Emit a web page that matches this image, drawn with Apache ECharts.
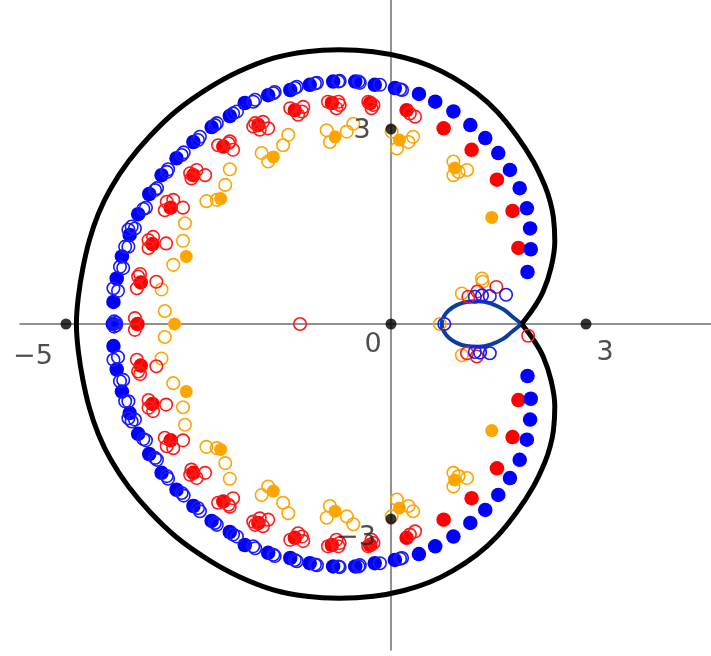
<!DOCTYPE html>
<html>
<head>
<meta charset="utf-8">
<script src="https://cdn.jsdelivr.net/npm/echarts/dist/echarts.min.js"></script>
<style>
    html, body { margin: 0; padding: 0; background: #fff; }
    #main { width: 711px; height: 656px; }
</style>
</head>
<body>
<div id="main"></div>
<script>
// upper half only: every root below the axis is the mirror image (conjugate pair)
var blueFilled = [[-4.27,0.34],[-4.22,0.70],[-4.14,1.04],[-4.02,1.37],[-3.89,1.69],[-3.72,2.00],[-3.53,2.29],[-3.30,2.55],
    [-3.04,2.80],[-2.76,3.03],[-2.48,3.20],[-2.25,3.40],[-1.89,3.52],[-1.55,3.60],[-1.25,3.68],[-0.89,3.73],[-0.55,3.73],
    [-0.25,3.68],[0.06,3.63],[0.43,3.54],[0.68,3.42],[0.96,3.27],[1.22,3.06],[1.45,2.86],[1.65,2.63],[1.83,2.37],
    [1.98,2.09],[2.09,1.78],[2.14,1.47],[2.15,1.15],[2.10,0.80]];
var blueOpen = [[-3.63,2.06],[-3.60,2.09],[-3.81,1.77],[-3.77,1.79],[-3.99,1.50],[-3.94,1.47],[-4.04,1.45],[-4.09,1.19],
    [-4.04,1.19],[-4.17,0.88],[-4.12,0.86],[-4.27,0.55],[-4.20,0.51],[-3.45,2.34],[-3.43,2.38],[-3.22,2.60],[-3.19,2.64],
    [-2.97,2.83],[-2.94,2.88],[-2.71,3.06],[-2.68,3.09],[-2.43,3.24],[-2.37,3.27],[-2.12,3.42],[-2.09,3.45],[-1.81,3.55],
    [-1.79,3.57],[-1.48,3.63],[-1.45,3.65],[-1.17,3.70],[-1.14,3.71],[-0.81,3.73],[-0.79,3.74],[-0.50,3.73],[-0.48,3.71],
    [-0.17,3.68],[0.14,3.61],[0.17,3.60],[-4.26,0.04],[-4.23,0.02]];
var redFilled = [[-3.85,0.64],[-3.67,1.23],[-3.39,1.79],[-3.04,2.29],[-2.58,2.73],[-2.04,3.06],[-1.48,3.29],[-0.91,3.40],
    [-0.32,3.40],[0.24,3.29],[0.81,3.01],[1.24,2.68],[1.63,2.22],[1.87,1.74],[1.96,1.17]];
var redOpen = [[-3.89,0.73],[-3.91,0.55],[-3.61,0.65],[-3.86,0.77],[-3.73,1.29],[-3.66,1.34],[-3.73,1.17],[-3.46,1.24],
    [-3.45,1.88],[-3.35,1.91],[-3.48,1.75],[-3.20,1.79],[-3.09,2.32],[-2.99,2.37],[-2.86,2.29],[-3.07,2.24],
    [-2.66,2.75],[-2.50,2.78],[-2.43,2.68],[-2.48,2.81],[-2.12,3.04],[-2.09,3.09],[-1.97,3.11],[-1.89,3.01],[-2.02,2.99],
    [-1.55,3.32],[-1.37,3.27],[-1.43,3.22],[-1.35,3.34],[-0.97,3.42],[-0.81,3.42],[-0.84,3.32],[-0.79,3.37],
    [-0.35,3.42],[-0.30,3.32],[-0.27,3.37],[0.29,3.24],[0.37,3.19],[-3.94,0.09]];
var orangeFilled = [[-3.15,1.04],[-2.62,1.93],[-1.81,2.57],[-0.86,2.88],[0.13,2.83],[0.98,2.40],[1.55,1.64]];
var orangeOpen = [[-2.84,1.89],[-2.68,1.91],[-2.55,2.14],[-2.48,2.38],[-3.17,1.55],[-3.20,1.28],[-3.35,0.91],[-3.53,0.53],
    [-3.48,0.20],[-1.99,2.63],[-1.89,2.50],[-1.66,2.75],[-1.58,2.91],[-0.99,2.98],[-0.94,2.80],[-0.68,2.96],[-0.58,3.08],
    [0.01,2.96],[0.09,2.70],[0.27,2.80],[0.34,2.88],[0.96,2.50],[1.04,2.34],[1.17,2.37],[0.96,2.29]];

// points on the real axis and the small cluster round the inner loop (not symmetric)
var blueFilledSingle = [[-4.28,0]];
var redFilledSingle = [[-3.90,0]];
var orangeFilledSingle = [[-3.33,0]];
var blueOpenSingle = [[0.82,0],[1.29,0.42],[1.40,0.44],[1.52,0.43],[1.77,0.45],[1.29,-0.43],[1.37,-0.44],[1.52,-0.45]];
var redOpenSingle = [[-1.40,0],[1.19,0.42],[1.33,0.50],[1.62,0.57],[1.17,-0.45],[1.32,-0.50],[2.11,-0.18]];
var orangeOpenSingle = [[0.75,0],[1.40,0.70],[1.41,0.65],[1.09,0.47],[1.09,-0.48]];

// curve, upper half, from the self-crossing round to the real axis
var outerCurve = [[2.01,0],[2.19,0.24],[2.34,0.50],[2.46,0.86],[2.52,1.27],[2.50,1.63],[2.45,1.88],[2.37,2.12],
    [2.19,2.50],[1.93,2.90],[1.63,3.27],[1.32,3.55],[0.96,3.79],[0.60,3.97],[0.20,4.10],[-0.27,4.19],[-0.80,4.22],
    [-1.30,4.19],[-1.81,4.09],[-2.35,3.88],[-2.82,3.62],[-3.30,3.28],[-3.70,2.90],[-4.04,2.50],[-4.31,2.09],
    [-4.50,1.70],[-4.64,1.29],[-4.74,0.86],[-4.81,0.42],[-4.84,0]];
var innerLoop = [[2.01,0],[1.86,0.12],[1.73,0.225],[1.55,0.31],[1.35,0.35],[1.16,0.34],[1.01,0.29],[0.89,0.21],
    [0.81,0.11],[0.78,0]];

var xTicks = [-5, 0, 3];
var xTickLabels = ['\u22125', '0', '3'];
var yTicks = [3, -3];
var yTickLabels = ['3', '\u22123'];

function withConj(pts) {
    return pts.concat(pts.filter(function (p) { return p[1] !== 0; })
        .map(function (p) { return [p[0], -p[1]]; }));
}
function closed(half) {
    return half.concat(half.slice(0, -1).reverse().map(function (p) { return [p[0], -p[1]]; }));
}

var myChart = echarts.init(document.getElementById('main'));

function dots(name, data, color, size) {
    return { name: name, type: 'scatter', data: data, symbol: 'circle', symbolSize: size,
        itemStyle: { color: color, opacity: 1 }, z: 3 };
}
function rings(name, data, color) {
    return { name: name, type: 'scatter', data: data, symbol: 'circle', symbolSize: 12.5,
        itemStyle: { color: 'rgba(0,0,0,0)', borderColor: color, borderWidth: 1.6, opacity: 1 }, z: 4 };
}

// label offsets for the tick marks (px)
var xOffsets = [[-33, 33], [-18, 21], [19, 29]];
var yOffsets = [[-29, 2], [-35, 19]];
var tickData = [];
xTicks.forEach(function (v, i) {
    tickData.push({ value: [v, 0], name: xTickLabels[i], label: { offset: xOffsets[i] } });
});
yTicks.forEach(function (v, i) {
    tickData.push({ value: [0, v], name: yTickLabels[i], label: { offset: yOffsets[i] } });
});

var option = {
    animation: false,
    backgroundColor: '#fff',
    grid: { left: 20, right: 0, top: 0, bottom: 6 },
    xAxis: {
        type: 'value', min: (20 - 391) / 65, max: (711 - 391) / 65,
        axisLine: { onZero: true, lineStyle: { color: '#6e6e6e', width: 1.5 } },
        axisTick: { show: false }, axisLabel: { show: false }, splitLine: { show: false }
    },
    yAxis: {
        type: 'value', min: (324 - 650) / 65, max: 324 / 65,
        axisLine: { show: true, onZero: true, lineStyle: { color: '#6e6e6e', width: 1.5 } },
        axisTick: { show: false }, axisLabel: { show: false }, splitLine: { show: false }
    },
    series: [
        { name: 'loop', type: 'line', data: closed(innerLoop), symbol: 'none', smooth: 0.4,
            lineStyle: { color: '#0b3d9e', width: 4 }, z: 1 },
        { name: 'outer', type: 'line', data: closed(outerCurve), symbol: 'none', smooth: 0.4,
            lineStyle: { color: '#000', width: 5 }, z: 2 },
        dots('orangeFilled', withConj(orangeFilled).concat(orangeFilledSingle), '#ffa500', 13),
        rings('orangeOpen', withConj(orangeOpen).concat(orangeOpenSingle), '#ffa500'),
        dots('redFilled', withConj(redFilled).concat(redFilledSingle), '#ff0000', 14.5),
        rings('redOpen', withConj(redOpen).concat(redOpenSingle), '#ff1a1a'),
        dots('blueFilled', withConj(blueFilled).concat(blueFilledSingle), '#0000ff', 14.5),
        rings('blueOpen', withConj(blueOpen).concat(blueOpenSingle), '#1a1aff'),
        {
            name: 'ticks', type: 'scatter', data: tickData, symbol: 'circle', symbolSize: 11,
            itemStyle: { color: '#000' }, z: 5,
            label: {
                show: true, position: 'inside', formatter: '{b}',
                color: '#222', fontSize: 27, fontFamily: 'DejaVu Sans', fontWeight: 'normal',
                align: 'center', verticalAlign: 'middle'
            }
        }
    ]
};
myChart.setOption(option);
</script>
</body>
</html>
